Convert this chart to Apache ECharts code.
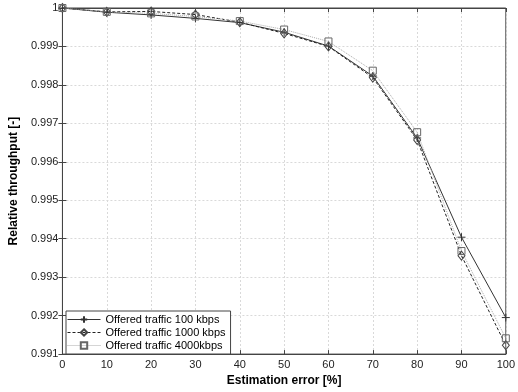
<!DOCTYPE html>
<html><head><meta charset="utf-8">
<script src="https://cdn.jsdelivr.net/npm/echarts@6/dist/echarts.min.js"></script>
<style>html,body{margin:0;padding:0;background:#fff}#c{width:518px;height:392px}</style>
</head><body><div id="c"></div>
<script>
const errors = [0, 10, 20, 30, 40, 50, 60, 70, 80, 90, 100];
const traffic100 = [1.0, 0.99989, 0.99982, 0.99973, 0.99962, 0.99937, 0.99901, 0.99823, 0.99662, 0.99404, 0.99195];
const traffic1000 = [1.0, 0.99990, 0.99991, 0.99983, 0.99963, 0.99934, 0.99900, 0.99819, 0.99657, 0.99356, 0.99123];
const traffic4000 = [1.0, 0.99990, 0.99986, 0.99978, 0.99966, 0.99944, 0.99913, 0.99837, 0.99677, 0.99368, 0.99141];
const seriesNames = ['Offered traffic 100 kbps', 'Offered traffic 1000 kbps', 'Offered traffic 4000kbps'];
const yTickLabels = ['0.991','0.992','0.993','0.994','0.995','0.996','0.997','0.998','0.999','1'];
const xTickLabels = ['0','10','20','30','40','50','60','70','80','90','100'];

const font = 'Liberation Sans, Arial, sans-serif';
const pair = a => errors.map((x, i) => [x, a[i]]);
const chart = echarts.init(document.getElementById('c'), null, {renderer: 'canvas'});
const gridLine = {show: true, lineStyle: {color: '#d9d9d9', type: [2, 2], width: 1}};
chart.setOption({
  animation: false,
  backgroundColor: '#fff',
  grid: {left: 61, right: 12, top: 8, bottom: 34, show: true, borderColor: '#444', borderWidth: 1, backgroundColor: 'transparent'},
  xAxis: [{
    type: 'value', min: 0, max: 100, interval: 10,
    name: 'Estimation error [%]', nameLocation: 'middle', nameGap: 20,
    nameTextStyle: {fontFamily: font, fontSize: 12, fontWeight: 'bold', color: '#000'},
    axisLine: {show: true, lineStyle: {color: '#444'}},
    axisTick: {show: true, inside: true, length: 4, lineStyle: {color: '#444'}},
    axisLabel: {fontFamily: font, fontSize: 11, color: '#222', margin: 5,
      formatter: v => xTickLabels[Math.round(v / 10)]},
    splitLine: gridLine
  }, {
    type: 'value', min: 0, max: 100, interval: 10, position: 'top',
    axisLine: {show: true, lineStyle: {color: '#444'}},
    axisTick: {show: true, inside: true, length: 4, lineStyle: {color: '#444'}},
    axisLabel: {show: false}, splitLine: {show: false}
  }],
  yAxis: [{
    type: 'value', min: 0.991, max: 1, interval: 0.001,
    name: 'Relative throughput [-]', nameLocation: 'middle', nameGap: 38,
    nameTextStyle: {fontFamily: font, fontSize: 12, fontWeight: 'bold', color: '#000'},
    axisLine: {show: true, lineStyle: {color: '#444'}},
    axisTick: {show: true, inside: true, length: 4, lineStyle: {color: '#444'}},
    axisLabel: {fontFamily: font, fontSize: 11, color: '#222', margin: 4,
      formatter: v => yTickLabels[Math.round((v - 0.991) * 1000)]},
    splitLine: gridLine
  }, {
    type: 'value', min: 0.991, max: 1, interval: 0.001, position: 'right',
    axisLine: {show: true, lineStyle: {color: '#444'}},
    axisTick: {show: true, inside: true, length: 4, lineStyle: {color: '#444'}},
    axisLabel: {show: false}, splitLine: {show: false}
  }],
  legend: {
    orient: 'vertical', left: 66, bottom: 38, itemGap: 2,
    itemWidth: 33, itemHeight: 8,
    padding: [3, 5, 3, 1],
    backgroundColor: '#fff', borderColor: '#444', borderWidth: 1, borderRadius: 0,
    textStyle: {fontFamily: font, fontSize: 11, color: '#000'},
    lineStyle: {width: 1},
    data: seriesNames
  },
  series: [{
    name: seriesNames[0], type: 'line', data: pair(traffic100),
    symbol: 'path://M5,0L5,10M0,5L10,5', symbolSize: 8,
    lineStyle: {color: '#333', width: 1, type: 'solid'},
    itemStyle: {color: 'transparent', borderColor: '#333', borderWidth: 1}
  }, {
    name: seriesNames[1], type: 'line', data: pair(traffic1000),
    symbol: 'diamond', symbolSize: [7, 9],
    lineStyle: {color: '#222', width: 1, type: [3, 2]},
    itemStyle: {color: 'transparent', borderColor: '#444', borderWidth: 1}
  }, {
    name: seriesNames[2], type: 'line', data: pair(traffic4000),
    symbol: 'rect', symbolSize: 7,
    lineStyle: {color: '#aaa', width: 1, type: [1, 1]},
    itemStyle: {color: 'transparent', borderColor: '#666', borderWidth: 1}
  }]
});
</script></body></html>
